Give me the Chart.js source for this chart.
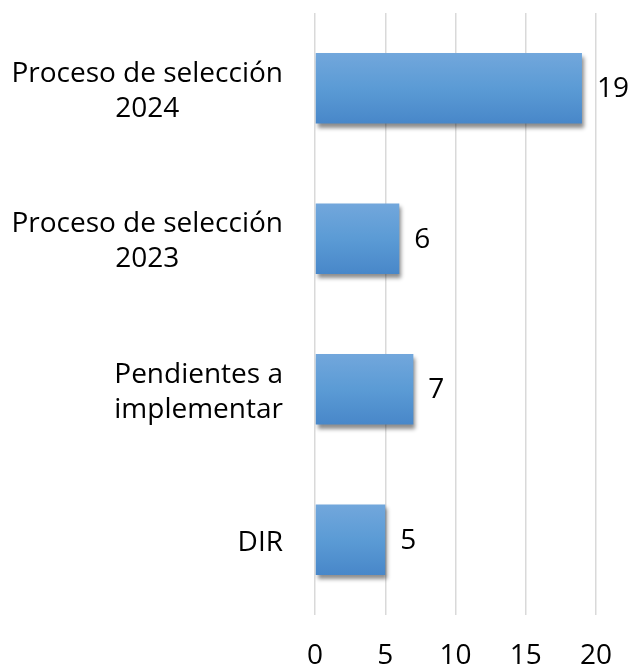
<!DOCTYPE html>
<html>
<head>
<meta charset="utf-8">
<script src="https://cdn.jsdelivr.net/npm/chart.js@4.4.1/dist/chart.umd.min.js"></script>
<style>
  html, body { margin: 0; padding: 0; background: #fff; }
  #wrap { width: 633px; height: 670px; }
</style>
</head>
<body>
<div id="wrap"><canvas id="chart" width="633" height="670"></canvas></div>
<script>
const categories = [
  ['Proceso de selección', '2024'],
  ['Proceso de selección', '2023'],
  ['Pendientes a', 'implementar'],
  ['DIR']
];
const values = [19, 6, 7, 5];
const xTicks = [0, 5, 10, 15, 20];

const FONT = '"Open Sans", Lato, sans-serif';
const FONT_SIZE = 28;
const BAR_PCT = 0.47;

// vertical gradient per bar, worked out from the category scale
function barFill(c) {
  const y = c.chart.scales.y;
  if (!y || y.height == null) return '#5b9bd5';
  const mid = y.getPixelForValue(c.dataIndex);
  const half = (y.height / categories.length) * BAR_PCT / 2;
  const g = c.chart.ctx.createLinearGradient(0, mid - half, 0, mid + half);
  g.addColorStop(0, '#72a7dc');
  g.addColorStop(0.5, '#5b9bd5');
  g.addColorStop(1, '#4887c9');
  return g;
}

const shadowPlugin = {
  id: 'barShadow',
  beforeDatasetsDraw(chart) {
    const ctx = chart.ctx;
    ctx.save();
    ctx.shadowColor = 'rgba(0,0,0,0.45)';
    ctx.shadowBlur = 4;
    ctx.shadowOffsetX = 2;
    ctx.shadowOffsetY = 4;
  },
  afterDatasetsDraw(chart) {
    chart.ctx.restore();
  }
};

// category labels: block right-aligned, lines centred within the block
const catLabels = {
  id: 'catLabels',
  afterDraw(chart) {
    const ctx = chart.ctx;
    const y = chart.scales.y;
    const right = y.right - 32;
    const lineH = 35;
    ctx.save();
    ctx.font = FONT_SIZE + 'px ' + FONT;
    ctx.fillStyle = '#000';
    ctx.textAlign = 'center';
    ctx.textBaseline = 'middle';
    categories.forEach((lines, i) => {
      const w = Math.max(...lines.map(l => ctx.measureText(l).width));
      const cx = right - w / 2;
      const cy = y.getPixelForValue(i) + 3;
      const top = cy - (lines.length - 1) * lineH / 2;
      lines.forEach((l, k) => ctx.fillText(l, cx, top + k * lineH));
    });
    ctx.restore();
  }
};

const valueLabels = {
  id: 'valueLabels',
  afterDatasetsDraw(chart) {
    const ctx = chart.ctx;
    const meta = chart.getDatasetMeta(0);
    ctx.save();
    ctx.font = FONT_SIZE + 'px ' + FONT;
    ctx.fillStyle = '#000';
    ctx.textAlign = 'left';
    ctx.textBaseline = 'middle';
    meta.data.forEach((bar, i) => {
      ctx.fillText(String(values[i]), bar.x + 15, bar.y + 1);
    });
    ctx.restore();
  }
};

new Chart(document.getElementById('chart'), {
  type: 'bar',
  data: {
    labels: categories,
    datasets: [{
      data: values,
      backgroundColor: barFill,
      borderWidth: 0,
      barPercentage: BAR_PCT,
      categoryPercentage: 1
    }]
  },
  options: {
    indexAxis: 'y',
    responsive: false,
    animation: false,
    layout: { padding: { top: 13, right: 37, left: 0, bottom: 0 } },
    plugins: {
      legend: { display: false },
      tooltip: { enabled: false }
    },
    scales: {
      x: {
        min: 0,
        max: 20,
        afterBuildTicks(scale) {
          scale.ticks = xTicks.map(v => ({ value: v }));
        },
        grid: { color: '#d9d9d9', lineWidth: 1.5, drawTicks: false },
        border: { display: false },
        ticks: {
          color: '#000',
          font: { family: FONT, size: FONT_SIZE },
          padding: 24
        },
        afterFit(scale) {
          scale.height = 55;
          scale.paddingLeft = 0;
          scale.paddingRight = 0;
        }
      },
      y: {
        grid: { display: false },
        border: { display: false },
        ticks: { display: false },
        afterFit(scale) { scale.width = 315; }
      }
    }
  },
  plugins: [shadowPlugin, catLabels, valueLabels]
});
</script>
</body>
</html>
